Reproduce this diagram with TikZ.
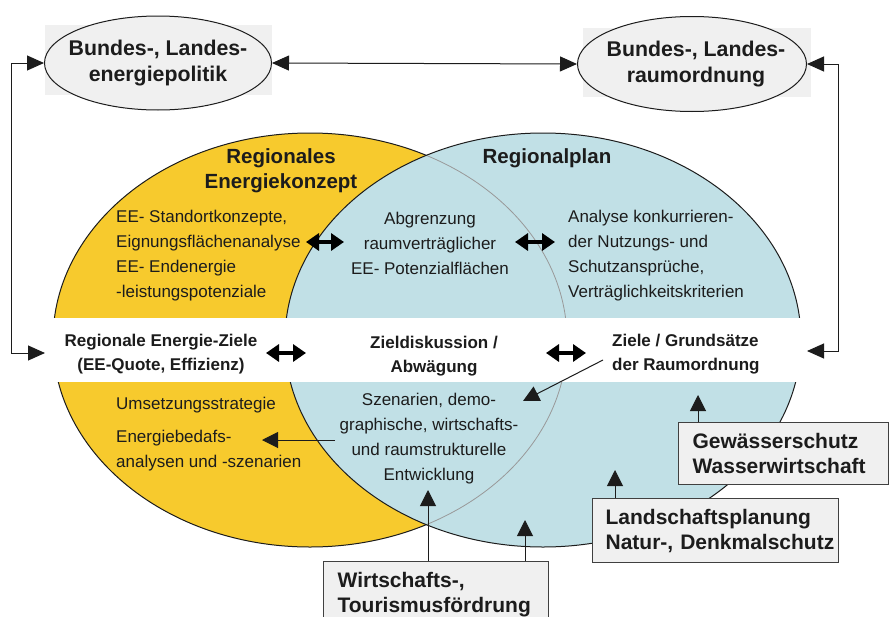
\documentclass[tikz,border=0pt]{standalone}
\usepackage{fontspec}
\setmainfont{Liberation Sans}
\usetikzlibrary{shapes.geometric,arrows.meta}
\definecolor{eyellow}{RGB}{247,202,45}
\definecolor{eblue}{RGB}{193,224,230}
\definecolor{boxgrey}{RGB}{240,240,240}
\definecolor{ink}{RGB}{28,28,28}
\tikzset{
  txt/.style={inner sep=0pt, text=ink, font=\fontsize{17}{25}\selectfont},
  bandtxt/.style={inner sep=0pt, text=ink, font=\bfseries\fontsize{17}{24.5}\selectfont},
  headtxt/.style={inner sep=0pt, text=ink, font=\bfseries\fontsize{20.5}{25}\selectfont},
  topell/.style={ellipse, draw=ink, line width=1pt, fill=boxgrey, inner xsep=-25pt, inner ysep=0pt,
    font=\bfseries\fontsize{21.3}{26}\selectfont, align=center, text=ink},
  gbox/.style={draw=black!75, line width=1.2pt, fill=boxgrey, inner xsep=14pt, inner ysep=0pt,
    align=left, anchor=north west, font=\bfseries\fontsize{21}{25}\selectfont, text=ink},
  conn/.style={draw=ink, line width=1pt,
    {Triangle[length=17pt,width=15pt]}-{Triangle[length=17pt,width=15pt]}},
  sarr/.style={draw=ink, line width=1pt, -{Triangle[length=16pt,width=16pt]}},
  darr/.style={draw=black, line width=4pt,
    {Triangle[length=13pt,width=17pt]}-{Triangle[length=13pt,width=17pt]}},
}
\begin{document}
\begin{tikzpicture}[x=1pt,y=-1pt]
\useasboundingbox (0,0) rectangle (889,616);
\fill[white] (0,0) rectangle (889,616);

% big ellipses
\fill[eyellow] (310,340) ellipse [x radius=257pt, y radius=207pt];
\draw[ink, line width=1pt] (310,340) ellipse [x radius=257pt, y radius=207pt];
\fill[eblue] (543,340) ellipse [x radius=258pt, y radius=207pt];
\begin{scope}
  \clip (543,340) ellipse [x radius=258pt, y radius=207pt];
  \draw[black!40, line width=0.8pt] (310,340) ellipse [x radius=257pt, y radius=207pt];
\end{scope}
\draw[ink, line width=1pt] (543,340) ellipse [x radius=258pt, y radius=207pt];

% white band
\fill[white] (0,318) rectangle (889,382);

% top ellipses
\fill[boxgrey] (45,25) rectangle (272,95);
\fill[boxgrey] (583,28) rectangle (811,97);
\node[topell, minimum width=227pt, minimum height=94pt] (bl) at (158,63) {Bundes-, Landes-\\energiepolitik};
\node[topell, minimum width=229pt, minimum height=95pt] (br) at (692,64) {\hspace*{8pt}Bundes-, Landes-\\\hspace*{8pt}raumordnung};

% headings and texts
\node[headtxt, align=center] (rek) at (281,171) {Regionales\\Energiekonzept};
\node[headtxt] (rp) at (547,158) {Regionalplan};
\node[txt, align=left, anchor=west] (eest) at (116,256) {EE- Standortkonzepte,\\Eignungsflächenanalyse\\EE- Endenergie\\-leistungspotenziale};
\node[txt, align=center] (abg) at (430,243) {Abgrenzung\\raumverträglicher\\EE- Potenzialflächen};
\node[txt, align=left, anchor=west] (ana) at (568,256) {Analyse konkurrieren-\\der Nutzungs- und\\Schutzansprüche,\\Verträglichkeitskriterien};

\node[bandtxt, align=center] (rez) at (161,354) {Regionale Energie-Ziele\\(EE-Quote, Effizienz)};
\node[bandtxt, align=center] (zd) at (434,356) {Zieldiskussion /\\Abwägung};
\node[bandtxt, align=left, anchor=west] (zg) at (612,354) {Ziele / Grundsätze\\der Raumordnung};

\node[txt, anchor=west] (ums) at (116,405) {Umsetzungsstrategie};
\node[txt, align=left, anchor=west] (ebd) at (116,451) {Energiebedafs-\\analysen und -szenarien};
\node[txt, align=center] (szen) at (429,439) {Szenarien, demo-\\graphische, wirtschafts-\\und raumstrukturelle\\Entwicklung};

% boxes
\node[gbox, text width=182pt, minimum height=62pt] (gw) at (678,422) {\mbox{Gewässerschutz}\\\mbox{Wasserwirtschaft}};
\node[gbox, inner xsep=13pt, text width=220pt, minimum height=64pt] (ls) at (592,498) {\mbox{Landschaftsplanung}\\\mbox{Natur-, Denkmalschutz}};
\node[gbox, text width=197pt, minimum height=66pt] (wt) at (323,561) {\mbox{Wirtschafts-,}\\\mbox{Tourismusfördrung}};

% coordinates
\coordinate (lz) at (45,353);
\coordinate (rz) at (807,351);
\coordinate (d1a) at (306,242); \coordinate (d1b) at (344,242);
\coordinate (d2a) at (515,242); \coordinate (d2b) at (555,242);
\coordinate (d3a) at (266,353); \coordinate (d3b) at (306,353);
\coordinate (d4a) at (546,353); \coordinate (d4b) at (586,353);
\coordinate (zgs) at (603,360); \coordinate (szt) at (523,401);
\coordinate (szs) at (335,440); \coordinate (ebt) at (262,440);
\coordinate (gwt) at (698,395);
\coordinate (lst) at (615,470);
\coordinate (wt1) at (428,490);
\coordinate (wt2) at (525,520);

% connectors
\draw[conn] (bl.east) -- (br.west);
\draw[conn] (bl.west) -- ++(-33,0) |- (lz);
\draw[conn] (br.east) -- ++(31,0) |- (rz);

\draw[darr] (d1a) -- (d1b);
\draw[darr] (d2a) -- (d2b);
\draw[darr] (d3a) -- (d3b);
\draw[darr] (d4a) -- (d4b);

\draw[sarr] (zgs) -- (szt);
\draw[sarr] (szs) -- (ebt);
\draw[sarr] (gw.north west -| gwt) -- (gwt);
\draw[sarr] (ls.north west -| lst) -- (lst);
\draw[sarr] (wt.north west -| wt1) -- (wt1);
\draw[sarr] (wt.north west -| wt2) -- (wt2);
\end{tikzpicture}
\end{document}
